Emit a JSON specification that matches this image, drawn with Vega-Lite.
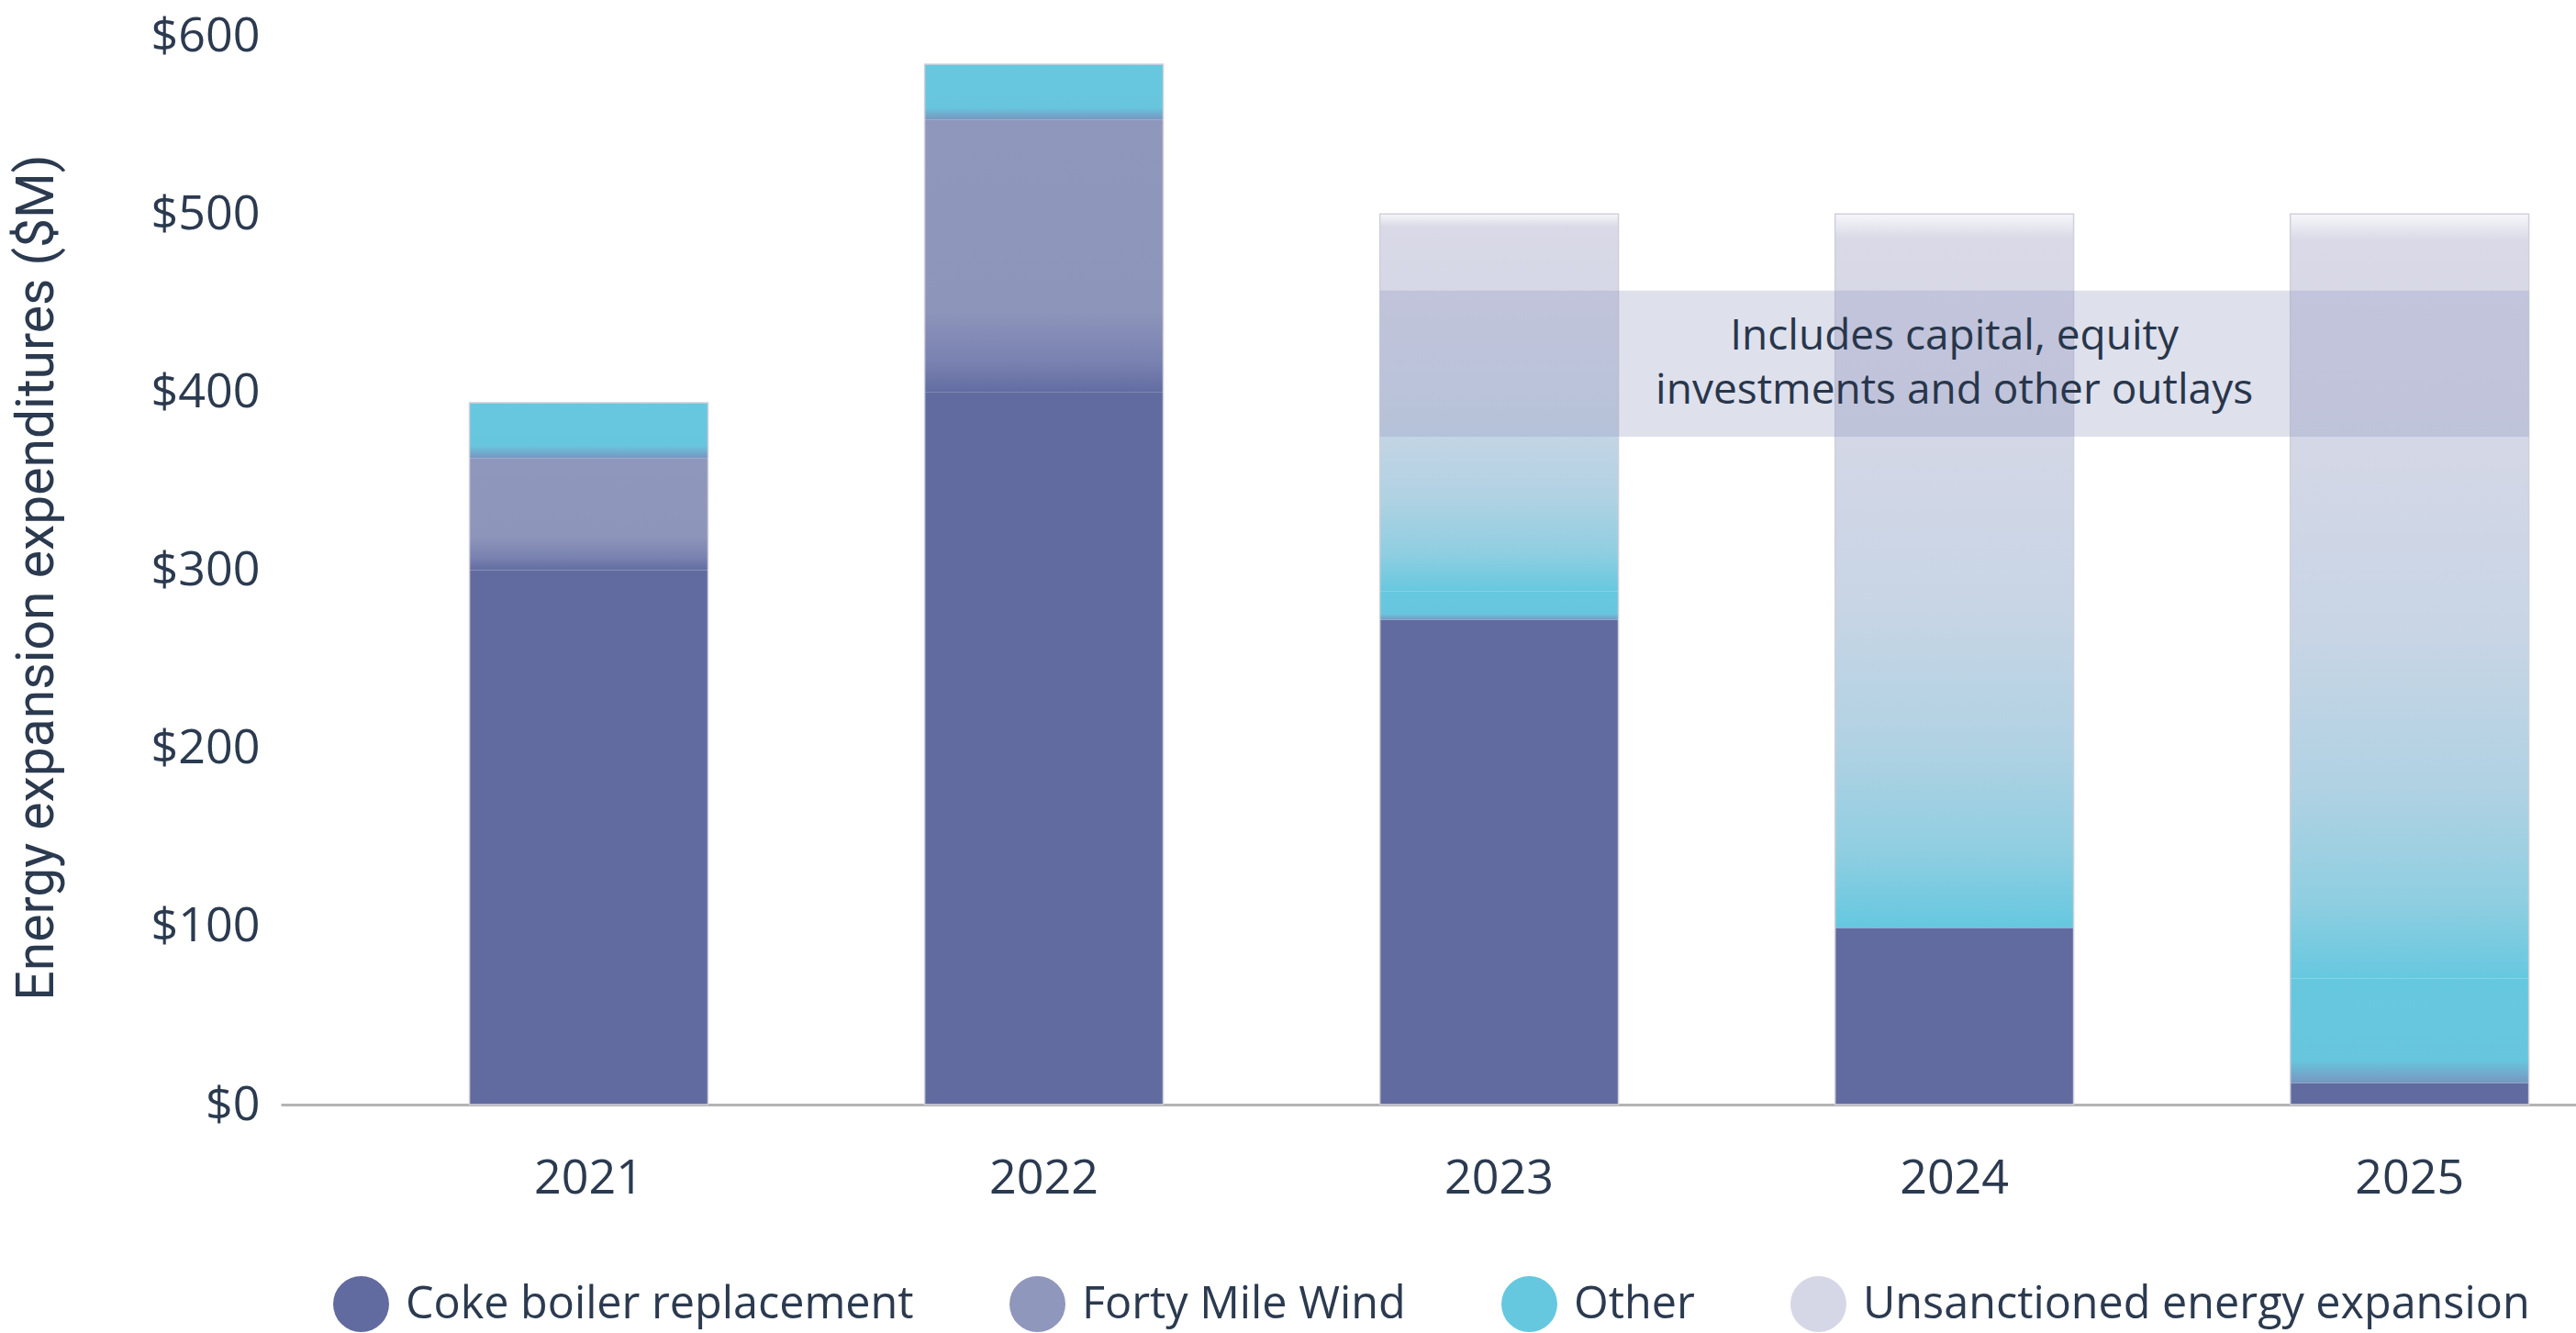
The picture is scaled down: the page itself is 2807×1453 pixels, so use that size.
{
  "$schema": "https://vega.github.io/schema/vega-lite/v6.json",
  "autosize": {"type": "none"},
  "width": 2501,
  "height": 1165,
  "padding": {"left": 306, "top": 39, "right": 0, "bottom": 249},
  "background": "#ffffff",
  "config": {
    "view": {"stroke": null},
    "font": "Open Sans",
    "axis": {"labelFont": "Open Sans", "labelColor": "#2b3a4f", "grid": false, "ticks": false, "tickSize": 0}
  },
  "layer": [
    {
      "data": {
        "values": [
          {"year": "2021", "cat": "Coke boiler replacement", "value": 300},
          {"year": "2021", "cat": "Forty Mile Wind", "value": 63},
          {"year": "2021", "cat": "Other", "value": 31},
          {"year": "2022", "cat": "Coke boiler replacement", "value": 400},
          {"year": "2022", "cat": "Forty Mile Wind", "value": 153},
          {"year": "2022", "cat": "Other", "value": 31},
          {"year": "2023", "cat": "Coke boiler replacement", "value": 272},
          {"year": "2023", "cat": "Other", "value": 16},
          {"year": "2023", "cat": "Unsanctioned energy expansion", "value": 212},
          {"year": "2024", "cat": "Coke boiler replacement", "value": 99},
          {"year": "2024", "cat": "Other", "value": 2},
          {"year": "2024", "cat": "Unsanctioned energy expansion", "value": 399},
          {"year": "2025", "cat": "Coke boiler replacement", "value": 12},
          {"year": "2025", "cat": "Other", "value": 59},
          {"year": "2025", "cat": "Unsanctioned energy expansion", "value": 429}
        ]
      },
      "layer": [
        {
          "mark": {"type": "bar"},
          "encoding": {
            "x": {
              "field": "year", "type": "nominal", "title": null,
              "scale": {"domain": ["2021", "2022", "2023", "2024", "2025"], "paddingInner": 0.476, "paddingOuter": 0.259, "align": 0.8},
              "axis": {"labelAngle": 0, "labelFontSize": 52, "labelPadding": 55, "labelBaseline": "top", "domain": true, "domainColor": "#b4b4b4", "domainWidth": 3}
            },
            "y": {
              "aggregate": "sum", "field": "value", "type": "quantitative",
              "scale": {"domain": [0, 600], "nice": false},
              "title": "Energy expansion expenditures ($M)",
              "axis": {
                "values": [0, 100, 200, 300, 400, 500, 600],
                "labelExpr": "'$' + datum.value",
                "labelFontSize": 52, "labelPadding": 23, "domain": false,
                "titleFont": "Roboto", "titleFontSize": 57, "titleFontWeight": "normal", "titleColor": "#2b3a4f",
                "titleAngle": -90, "titleAlign": "center", "titleBaseline": "middle",
                "titleX": -266, "titleY": 590
              }
            },
            "order": {"field": "cat", "sort": "ascending"},
            "color": {
              "field": "cat", "type": "nominal",
              "scale": {
                "domain": ["Coke boiler replacement", "Forty Mile Wind", "Other", "Unsanctioned energy expansion"],
                "range": ["#626b9f", "#8f97bc", "#66c8df", "#d6d7e6"]
              },
              "legend": {
                "title": null, "orient": "none", "direction": "horizontal",
                "legendX": 57, "legendY": 1352, "padding": 0,
                "symbolType": "circle", "symbolSize": 3721, "symbolStrokeWidth": 0,
                "labelFont": "Open Sans", "labelFontSize": 48.5, "labelColor": "#2b3a4f",
                "labelOffset": 18, "columnPadding": 104, "labelLimit": 1000
              },
              "condition": [
                {
                  "test": "datum.cat === 'Forty Mile Wind'",
                  "value": {
                    "gradient": "linear", "x1": 0, "y1": 0, "x2": 0, "y2": 1,
                    "stops": [
                      {"offset": 0, "color": "#8f97bc"},
                      {"offset": 0.7, "color": "#8d95bb"},
                      {"offset": 0.88, "color": "#7a83b1"},
                      {"offset": 1, "color": "#646da1"}
                    ]
                  }
                },
                {
                  "test": "datum.cat === 'Other'",
                  "value": {
                    "gradient": "linear", "x1": 0, "y1": 0, "x2": 0, "y2": 1,
                    "stops": [
                      {"offset": 0, "color": "#66c8df"},
                      {"offset": 0.78, "color": "#67c6de"},
                      {"offset": 1, "color": "#7896c0"}
                    ]
                  }
                },
                {
                  "test": "datum.cat === 'Unsanctioned energy expansion'",
                  "value": {
                    "gradient": "linear", "x1": 0, "y1": 0, "x2": 0, "y2": 1,
                    "stops": [
                      {"offset": 0, "color": "#f6f6fa"},
                      {"offset": 0.035, "color": "#d9d9e7"},
                      {"offset": 0.3, "color": "#d4d7e6"},
                      {"offset": 0.55, "color": "#c8d5e5"},
                      {"offset": 0.75, "color": "#b0d2e3"},
                      {"offset": 0.9, "color": "#8fcee1"},
                      {"offset": 1, "color": "#66c8df"}
                    ]
                  }
                }
              ]
            }
          }
        },
        {
          "mark": {"type": "bar", "fill": null, "fillOpacity": 0, "stroke": "#cfd0da", "strokeWidth": 1.5},
          "encoding": {
            "x": {"field": "year", "type": "nominal"},
            "y": {"aggregate": "sum", "field": "value", "type": "quantitative"}
          }
        }
      ]
    },
    {
      "data": {"values": [{"x1": "2023", "x2": "2025", "y1": 375, "y2": 457}]},
      "mark": {"type": "rect", "color": "#8c93bd", "opacity": 0.29},
      "encoding": {
        "x": {"field": "x1", "type": "nominal", "bandPosition": 0},
        "x2": {"field": "x2", "bandPosition": 1},
        "y": {"field": "y1", "type": "quantitative"},
        "y2": {"field": "y2"}
      }
    },
    {
      "data": {"values": [{"tx": "2024", "ty": 431, "label": ["Includes capital, equity", "investments and other outlays"]}]},
      "mark": {"type": "text", "font": "Open Sans", "fontSize": 46, "lineHeight": 59, "color": "#28364b", "align": "center", "baseline": "middle"},
      "encoding": {
        "x": {"field": "tx", "type": "nominal"},
        "y": {"field": "ty", "type": "quantitative"},
        "text": {"field": "label"}
      }
    }
  ]
}
